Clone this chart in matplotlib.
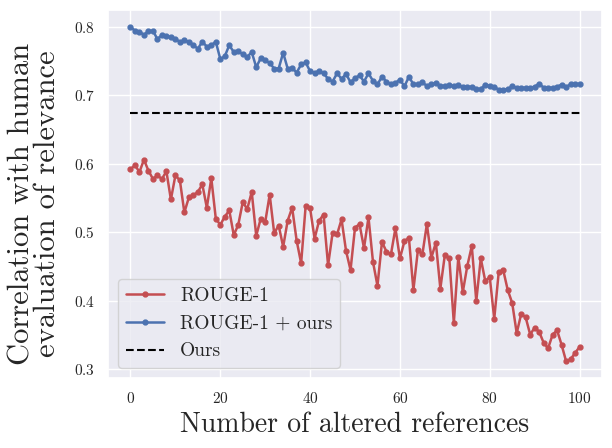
import matplotlib
matplotlib.use("Agg")
import matplotlib.pyplot as plt
import seaborn as sns
import numpy as np

x_vals = list(range(0, 101))

rouge1 = [
    0.592, 0.598, 0.588, 0.606, 0.590, 0.578, 0.583, 0.578, 0.589, 0.548,
    0.583, 0.576, 0.529, 0.551, 0.554, 0.559, 0.570, 0.536, 0.579, 0.520,
    0.511, 0.523, 0.532, 0.496, 0.511, 0.544, 0.534, 0.559, 0.495, 0.520,
    0.515, 0.555, 0.499, 0.510, 0.479, 0.517, 0.536, 0.488, 0.455, 0.538,
    0.535, 0.491, 0.517, 0.526, 0.452, 0.499, 0.497, 0.519, 0.473, 0.445,
    0.507, 0.512, 0.477, 0.522, 0.457, 0.422, 0.486, 0.472, 0.468, 0.506,
    0.462, 0.487, 0.492, 0.416, 0.474, 0.468, 0.512, 0.463, 0.485, 0.418,
    0.467, 0.462, 0.368, 0.464, 0.413, 0.451, 0.480, 0.400, 0.462, 0.429,
    0.435, 0.374, 0.442, 0.445, 0.416, 0.397, 0.353, 0.381, 0.376, 0.351,
    0.361, 0.355, 0.339, 0.331, 0.351, 0.357, 0.336, 0.312, 0.315, 0.324,
    0.333,
]

rouge1_ours = [
    0.800, 0.794, 0.793, 0.788, 0.794, 0.794, 0.782, 0.788, 0.786, 0.785,
    0.782, 0.778, 0.780, 0.778, 0.773, 0.768, 0.778, 0.771, 0.773, 0.778,
    0.753, 0.757, 0.773, 0.763, 0.764, 0.760, 0.756, 0.763, 0.741, 0.754,
    0.751, 0.747, 0.739, 0.739, 0.762, 0.739, 0.740, 0.733, 0.745, 0.748,
    0.735, 0.733, 0.735, 0.732, 0.724, 0.720, 0.732, 0.724, 0.731, 0.719,
    0.725, 0.729, 0.720, 0.732, 0.721, 0.716, 0.727, 0.720, 0.716, 0.718,
    0.723, 0.713, 0.727, 0.716, 0.716, 0.719, 0.7135, 0.716, 0.718, 0.7135,
    0.714, 0.715, 0.7135, 0.715, 0.712, 0.712, 0.7125, 0.709, 0.709, 0.7155,
    0.7135, 0.7125, 0.708, 0.708, 0.709, 0.713, 0.711, 0.711, 0.711, 0.711,
    0.7125, 0.717, 0.711, 0.711, 0.711, 0.7125, 0.7155, 0.7115, 0.7165, 0.7165,
    0.7165,
]

ours_value = 0.674

labels = ["ROUGE-1", "ROUGE-1 + ours", "Ours"]
xlabel = "Number of altered references"
ylabel = "Correlation with human\nevaluation of relevance"

sns.set_theme(style="darkgrid")
plt.rcParams['font.family'] = ['cmr10', 'DejaVu Serif']
plt.rcParams['mathtext.fontset'] = 'cm'
plt.rcParams['axes.formatter.use_mathtext'] = True

fig = plt.figure(figsize=(6.12, 4.48), dpi=100)
ax = fig.add_axes([0.1765, 0.1563, 0.9837 - 0.1765, 0.9777 - 0.1563])

red = "#c44e52"
blue = "#4c72b0"

ax.plot(x_vals, rouge1, color=red, marker='o', markersize=3.5, linewidth=1.8, label=labels[0])
ax.plot(x_vals, rouge1_ours, color=blue, marker='o', markersize=3.5, linewidth=1.8, label=labels[1])
ax.plot([x_vals[0], x_vals[-1]], [ours_value, ours_value], color='black', linestyle='--', linewidth=1.5, label=labels[2])

ax.set_xticks([0, 20, 40, 60, 80, 100])
ax.set_yticks([0.3, 0.4, 0.5, 0.6, 0.7, 0.8])
ax.tick_params(axis='both', labelsize=11)

ax.set_xlabel(xlabel, fontsize=20)
ax.set_ylabel(ylabel, fontsize=22, linespacing=0.9)
ax.yaxis.set_label_coords(-0.095, 0.473)

ax.legend(loc='lower left', fontsize=14)

fig.savefig("out.png", dpi=100)
